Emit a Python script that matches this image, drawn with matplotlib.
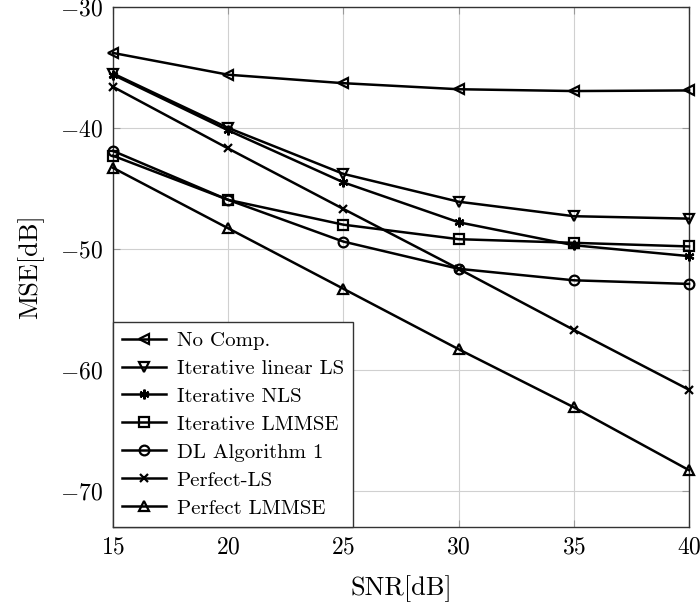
import matplotlib
matplotlib.use("Agg")
import matplotlib.pyplot as plt

plt.rcParams['font.family'] = ['cmr10', 'DejaVu Serif']
plt.rcParams['mathtext.fontset'] = 'cm'
plt.rcParams['axes.formatter.use_mathtext'] = True

snr = [15, 20, 25, 30, 35, 40]
no_comp = [-33.8, -35.6, -36.3, -36.8, -36.95, -36.9]
iter_lin_ls = [-35.5, -40.0, -43.8, -46.1, -47.3, -47.5]
iter_nls = [-35.6, -40.2, -44.5, -47.8, -49.7, -50.6]
iter_lmmse = [-42.3, -45.95, -48.0, -49.2, -49.5, -49.8]
dl_alg1 = [-41.9, -45.95, -49.4, -51.65, -52.6, -52.9]
perfect_ls = [-36.6, -41.7, -46.7, -51.65, -56.7, -61.65]
perfect_lmmse = [-43.3, -48.3, -53.3, -58.3, -63.1, -68.3]

labels = ["No Comp.", "Iterative linear LS", "Iterative NLS", "Iterative LMMSE",
          "DL Algorithm 1", "Perfect-LS", "Perfect LMMSE"]
series = [no_comp, iter_lin_ls, iter_nls, iter_lmmse, dl_alg1, perfect_ls, perfect_lmmse]
markers = ['<', 'v', (6, 2, 0), 's', 'o', 'x', '^']
msizes = [7, 7, 7, 7, 7, 5.5, 7]

fig = plt.figure(figsize=(7, 6.05), dpi=100)
ax = fig.add_axes([113/700, 1-527/605, (689-113)/700, (527-7)/605])

for y, lab, m, ms in zip(series, labels, markers, msizes):
    ax.plot(snr, y, color='black', lw=1.8, marker=m, markersize=ms,
            markerfacecolor='none', markeredgecolor='black', markeredgewidth=1.6,
            label=lab, clip_on=False, zorder=3)

ax.set_xlim(15, 40)
ax.set_ylim(-73, -30)
ax.set_xticks([15, 20, 25, 30, 35, 40])
ax.set_yticks([-30, -40, -50, -60, -70])
ax.grid(True, color='#d0d0d0', lw=0.8)
ax.set_axisbelow(True)
ax.tick_params(direction='in', length=5, color='#999999', labelsize=17,
               top=True, right=True, pad=7)
for s in ax.spines.values():
    s.set_color('#333333')
    s.set_linewidth(1.0)
ax.set_xlabel("SNR[dB]", fontsize=19, labelpad=12)
ax.set_ylabel("MSE[dB]", fontsize=19, labelpad=12)

leg = ax.legend(loc='lower left', fontsize=15, frameon=True, fancybox=False,
                edgecolor='#333333', framealpha=1, borderaxespad=0,
                handlelength=2.1, handletextpad=0.5, labelspacing=0.45, borderpad=0.45)
leg.get_frame().set_linewidth(1.0)
leg.set_zorder(5)

fig.savefig("out.png", dpi=100)
